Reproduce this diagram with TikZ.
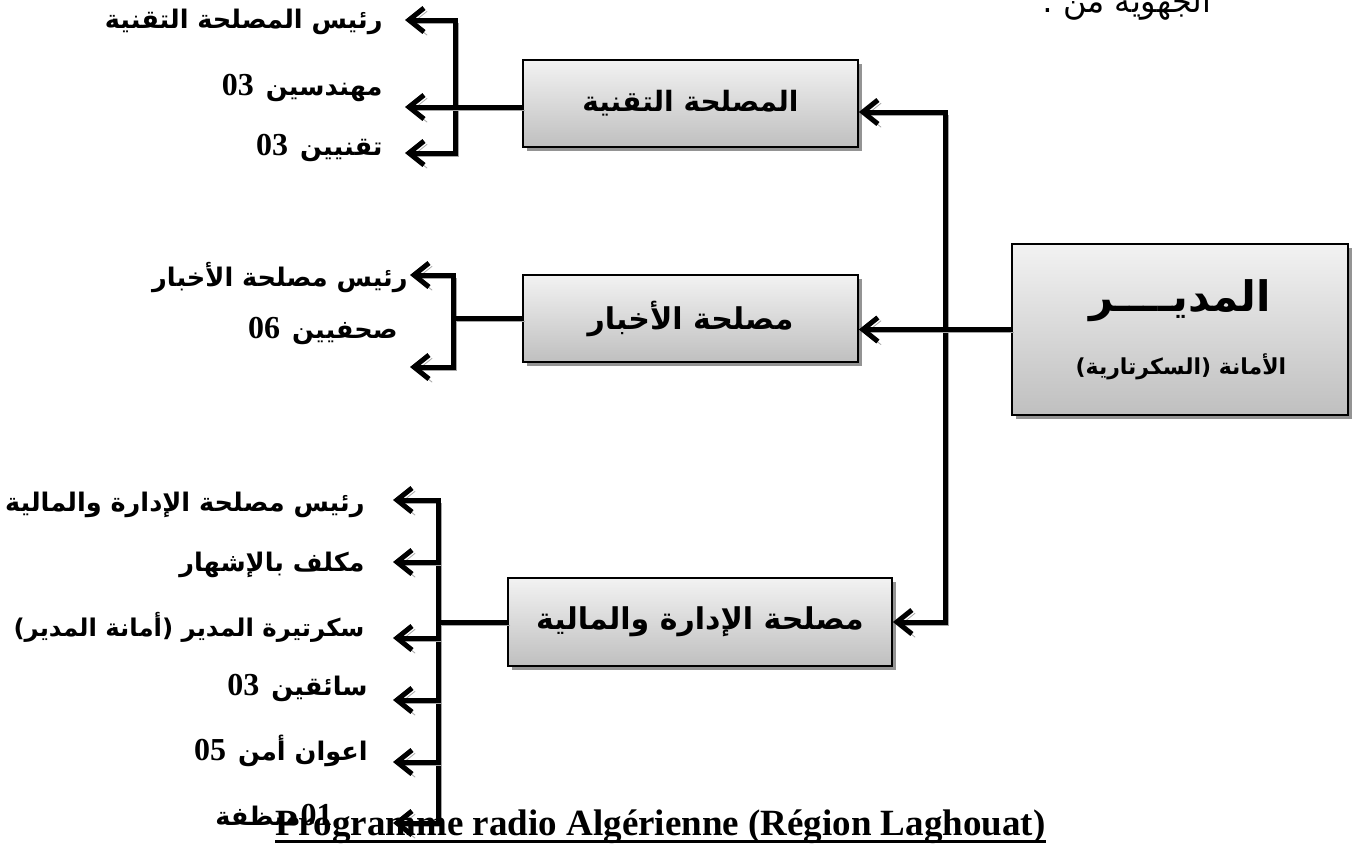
\documentclass[tikz,border=0pt]{standalone}
\usepackage{fontspec}
\setmainfont{Liberation Serif}
\newfontfamily\arb[Script=Arabic]{DejaVu Sans}
\TeXXeTstate=1
\usetikzlibrary{arrows.meta,shadows,calc}
\newcommand\artxt[1]{{\arb\bfseries\beginR #1\endR}}
\newcommand\numtxt[1]{{\bfseries\fontsize{16}{17}\selectfont #1}}
\begin{document}
\begin{tikzpicture}[x=0.5pt,y=-0.5pt,
  >={Straight Barb[length=7.5pt,width=12pt]},
  conn/.style={line width=2.5pt, line join=miter,
    preaction={draw=black!35, transform canvas={shift={(1.6pt,-1.6pt)}}}},
  box/.style={draw=black, line width=0.9pt, top color=gray!10, bottom color=gray!50,
    inner sep=0pt, font=\fontsize{15}{17}\selectfont,
    drop shadow={shadow xshift=2pt, shadow yshift=-2pt, fill=black!60, opacity=0.7}},
  lbl/.style={anchor=east, inner sep=0pt, font=\fontsize{12.8}{14}\selectfont},
]
\useasboundingbox (0,0) rectangle (1357,848);

% header text (clipped at top)
\node[anchor=base east, inner sep=0pt, font=\fontsize{16}{18}\selectfont] (hdr) at (1212,12) {\arb\beginR الجهوية من :\endR};

% boxes
\node[box, minimum width=167.5pt, minimum height=43.5pt, font=\fontsize{14}{16}\selectfont] (tech) at (690.5,103.5) {\artxt{المصلحة التقنية}};
\node[box, minimum width=167.5pt, minimum height=43.5pt] (news) at (690.5,318.5) {\artxt{مصلحة الأخبار}};
\node[box, minimum width=192pt, minimum height=44pt] (adm) at (700,622) {\artxt{مصلحة الإدارة والمالية}};
\node[box, minimum width=168pt, minimum height=85.5pt] (dir) at (1180,329.5) {};
\node[inner sep=0pt, font=\fontsize{21}{23}\selectfont] (dirT) at (1180,301) {\artxt{المديــــر}};
\node[inner sep=0pt, font=\fontsize{11}{13}\selectfont] (dirS) at (1181,367) {\artxt{الأمانة (السكرتارية)}};

% labels
\node[lbl] (t1) at (383,22) {\artxt{رئيس المصلحة التقنية}};
\node[lbl] (t2) at (383,88) {\numtxt{03}\hspace{6pt}\artxt{مهندسين}};
\node[lbl] (t3) at (383,148) {\numtxt{03}\hspace{6pt}\artxt{تقنيين}};
\node[lbl] (n1) at (408,278) {\artxt{رئيس مصلحة الأخبار}};
\node[lbl] (n2) at (398,331) {\numtxt{06}\hspace{6pt}\artxt{صحفيين}};
\node[lbl] (a1) at (365,505) {\artxt{رئيس مصلحة الإدارة والمالية}};
\node[lbl] (a2) at (365,565) {\artxt{مكلف بالإشهار}};
\node[lbl, font=\fontsize{12.2}{14}\selectfont] (a3) at (365,627) {\artxt{سكرتيرة المدير (أمانة المدير)}};
\node[lbl] (a4) at (368,688) {\numtxt{03}\hspace{6pt}\artxt{سائقين}};
\node[lbl] (a5) at (368,751) {\numtxt{05}\hspace{6pt}\artxt{اعوان أمن}};
\node[lbl] (a6) at (333,815) {\artxt{منظفة}\numtxt{01}};

% main trunk
\coordinate (tt) at (945,112);
\coordinate (tb) at (945,622);
\draw[conn,<->] (tech.east |- tt) -| (tb) -- (adm.east);
\draw[conn,->] (dir.west) -- (news.east |- dir.west);

% technical branch
\coordinate (tbA) at (455,20);
\coordinate (tbC) at (455,153);
\coordinate (tA) at (405,20);
\coordinate (tB) at (405,107);
\coordinate (tC) at (405,153);
\draw[conn,<->] (tA) -- (tbA) -- (tbC) -- (tC);
\draw[conn,<-] (tB) -- (tB -| tech.west);

% news branch
\coordinate (nbA) at (453,275);
\coordinate (nbB) at (453,367);
\coordinate (nA) at (410,275);
\coordinate (nB) at (410,367);
\draw[conn,<->] (nA) -- (nbA) -- (nbB) -- (nB);
\draw[conn] (news.west) -- (news.west -| nbA);

% admin branch
\coordinate (abA) at (438,500);
\coordinate (abF) at (438,823);
\coordinate (aA) at (393,500);
\coordinate (aB) at (393,562);
\coordinate (aC) at (393,638);
\coordinate (aD) at (393,700);
\coordinate (aE) at (393,762);
\coordinate (aF) at (393,823);
\draw[conn,<->] (aA) -- (abA) -- (abF) -- (aF);
\foreach \c in {aB,aC,aD,aE} \draw[conn,<-] (\c) -- (\c -| abA);
\draw[conn] (adm.west) -- (adm.west -| abA);

% title
\node[anchor=base west, inner sep=0pt, font=\bfseries\fontsize{18.5}{20}\selectfont] (title) at (275,835) {Programme radio Algérienne (Région Laghouat)};
\draw[line width=1.5pt] ([yshift=-3pt]title.base west) -- ([yshift=-3pt]title.base east);
\end{tikzpicture}
\end{document}
